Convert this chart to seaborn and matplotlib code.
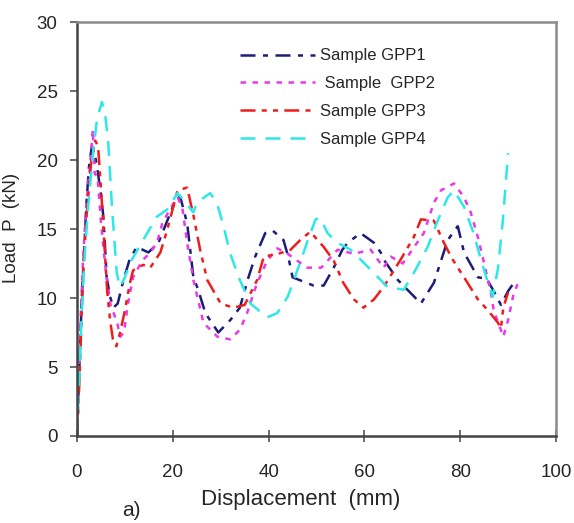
import numpy as np
import pandas as pd
import matplotlib
matplotlib.use("Agg")
import matplotlib.pyplot as plt
import seaborn as sns

# displacement (mm) / load (kN)
gpp1_x = [0, 0.3, 0.7, 1, 1.5, 2, 2.5, 3.1, 3.6, 4.2, 5, 5.5, 6.2, 6.9, 7.6, 8.5, 9.7, 11, 12.5,
          14.9, 17, 20, 21.5, 23, 24.3, 25.3, 26.8, 29.5, 32, 34, 35.8, 37.2, 39.3, 40.8, 43.1,
          44.1, 45, 49.4, 51.5, 53.6, 55.4, 56.5, 59.2, 62, 63.4, 64, 67, 71.8, 74.5, 77.4, 79.5,
          80.8, 83.7, 85.5, 87, 88.5, 90, 91.2]
gpp1_y = [0, 3, 7, 10, 13.5, 17, 19.5, 21, 20.6, 19.5, 17.5, 15.9, 11.5, 10.1, 9.3, 9.6, 11.3, 12.8, 13.7,
          13.3, 14, 16.6, 17.4, 15.4, 11.5, 10.6, 8.9, 7.5, 8.4, 9.3, 11.5, 13, 14.7, 14.9, 14.2,
          13, 11.5, 10.9, 10.9, 12.2, 13.5, 14, 14.7, 14, 13.3, 12.8, 11.3, 9.6, 11.1, 14.2, 15.2,
          13.3, 11.5, 11.4, 10.5, 9.5, 10.5, 11.1]

gpp2_x = [0, 0.4, 0.8, 1.3, 2, 2.7, 3.3, 3.7, 4.3, 5, 6, 7, 8.4, 9, 9.8, 10.6, 11.7, 13.6, 15.3, 16.7,
          17.8, 19.5, 21, 22, 23, 24.3, 26.4, 29.3, 32, 34, 35.5, 37.5, 39.7, 41.8, 44, 46, 48, 51,
          54.4, 57.8, 61.3, 64, 65.5, 68, 70, 72.4, 74.5, 76, 78.7, 80.8, 82.2, 83.7, 85, 86.4, 87,
          89, 90, 91.2, 92]
gpp2_y = [0, 4, 9, 13, 17, 19.5, 22.2, 19, 18.8, 15.5, 12, 9.5, 8.2, 7.2, 7.5, 9.5, 11.5, 12.7, 13.3, 14,
          15.4, 16.5, 17.3, 16.5, 14, 11.3, 8.2, 7.2, 7, 7.7, 8.9, 11, 12.7, 13.6, 13.2, 12.7, 12.2, 12.2,
          13.5, 13.2, 13.5, 12.2, 13, 12.5, 13.5, 14.7, 16.9, 17.8, 18.3, 17.3, 16.2, 14.4, 12.5, 10.4, 9.1,
          7.2, 8.4, 10.4, 11]

gpp3_x = [0, 0.4, 0.8, 1.3, 2, 3, 3.8, 4.4, 5, 5.7, 6.3, 6.9, 7.5, 8.2, 9, 10, 11, 11.7, 13.8, 15.3,
          17.4, 18.8, 21, 23, 24.3, 25.7, 27.2, 30, 32.6, 35, 37.6, 39, 42, 44.6, 46.6, 48.7, 51.5,
          53.6, 55.6, 57.8, 59.8, 62, 64, 67.6, 70.3, 71.8, 74.5, 76.6, 78.4, 80.8, 83.7, 85.8, 87.9,
          88.5, 89, 90]
gpp3_y = [0, 3, 7, 12, 16, 20, 21.4, 21, 18, 14, 10.5, 8.4, 7, 6.5, 7.5, 9.1, 11, 12, 12.4, 12.2,
          13.3, 14.9, 17.8, 18, 16, 13.5, 11.3, 9.6, 9.3, 9.5, 11.3, 13, 13.2, 13.5, 14.2, 14.8, 13.7,
          12.7, 11.1, 9.9, 9.3, 9.9, 10.8, 12.8, 14.4, 15.7, 15.6, 14, 12.8, 11.5, 9.9, 9.1, 8.2,
          7.8, 9.3, 10.4]

gpp4_x = [0, 0.5, 1, 1.6, 2.3, 3.4, 4.2, 5.2, 5.8, 6.5, 7.3, 8.3, 9, 10, 11, 13.8, 16.7, 18.8, 21,
          22.2, 24.3, 25, 27.8, 29.2, 30.6, 32, 34, 36.2, 39.7, 41.8, 44, 46, 48, 49.8, 50.8, 52.3,
          54.4, 57.1, 60.6, 63.4, 64.8, 68.2, 70.3, 73.2, 75.3, 77.4, 78.7, 80.8, 82.8, 84.3, 85.8,
          86.8, 87.9, 88.9, 90]
gpp4_y = [0, 4.5, 9, 13, 16.5, 20.7, 23, 24.2, 23.5, 21.4, 16.6, 11.8, 10.8, 11.5, 12.5, 14.2, 15.9, 16.4, 17.6,
          17.1, 16.2, 16.9, 17.6, 16.9, 15.2, 13.2, 11.3, 9.6, 8.6, 8.9, 10.1, 12, 14, 15.7, 15.8, 14.7,
          14, 13.5, 12.3, 11.3, 10.8, 10.6, 11.8, 13.7, 15.6, 17.3, 17.8, 16.6, 14.7, 12.8, 11.1,
          10.1, 12.2, 15.6, 20.5]

labels = ["Sample GPP1", " Sample  GPP2", "Sample GPP3", "Sample GPP4"]
colors = ["#1c1c7a", "#e83ae8", "#f01c1c", "#2ee8e8"]
dash_styles = [(6, 3, 2, 3), (2.2, 2.6), (6, 2.5, 2, 2.5, 2, 2.5), (6, 4)]

frames = []
for lab, xs, ys in zip(labels, [gpp1_x, gpp2_x, gpp3_x, gpp4_x], [gpp1_y, gpp2_y, gpp3_y, gpp4_y]):
    frames.append(pd.DataFrame({"disp": xs, "load": ys, "sample": lab}))
df = pd.concat(frames, ignore_index=True)

sns.set_style("white")
plt.rcParams["font.family"] = ["Liberation Sans", "DejaVu Sans"]

fig = plt.figure(figsize=(5.74, 5.23), dpi=100)
ax = fig.add_axes([77 / 574, 1 - 436 / 523, (556 - 77) / 574, (436 - 22) / 523])

sns.lineplot(data=df, x="disp", y="load", hue="sample", style="sample",
             palette=dict(zip(labels, colors)), dashes=dict(zip(labels, dash_styles)),
             estimator=None, sort=False, linewidth=1.8, ax=ax)

ax.set_xlim(0, 100)
ax.set_ylim(0, 30)
ax.set_xticks(range(0, 101, 20))
ax.set_yticks(range(0, 31, 5))
ax.tick_params(axis="y", direction="out", length=5, width=1.2, color="#555555", labelsize=13.5, pad=9)
ax.tick_params(axis="x", direction="inout", length=8, width=1.2, color="#555555", labelsize=13.5, pad=16)
ax.tick_params(left=True, bottom=True)
ax.set_xlabel("Displacement  (mm)", fontsize=16)
ax.set_ylabel("Load  P  (kN)", fontsize=13.5)
ax.xaxis.set_label_coords(0.466, -0.128)
ax.yaxis.set_label_coords(-0.118, 0.502)

for side in ["left", "bottom"]:
    ax.spines[side].set_color("#444444")
    ax.spines[side].set_linewidth(1.8)
for side in ["top", "right"]:
    ax.spines[side].set_color("#8a8a8a")
    ax.spines[side].set_linewidth(1.8)

ax.legend(loc="upper left", bbox_to_anchor=(0.34, 0.936), frameon=False, fontsize=12,
          handlelength=4.5, handletextpad=0.3, labelspacing=0.77, borderpad=0, borderaxespad=0)

fig.text(131 / 574, 1 - 510 / 523, "a)", fontsize=15, ha="center", va="center")

fig.savefig("out.png", dpi=100)
